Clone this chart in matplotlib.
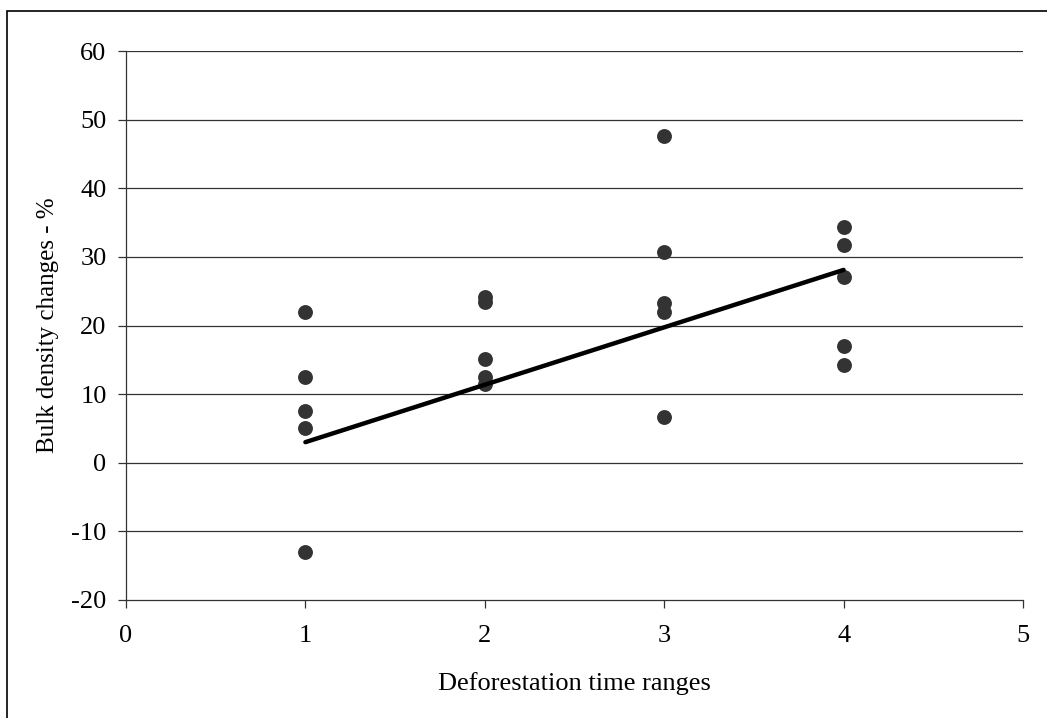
import matplotlib.pyplot as plt
from matplotlib.patches import Rectangle

plt.rcParams['font.family'] = ['Liberation Serif', 'DejaVu Serif']
plt.rcParams['axes.unicode_minus'] = False

# ---- data ----
time_range = [1, 1, 1, 1, 1,
              2, 2, 2, 2, 2,
              3, 3, 3, 3, 3,
              4, 4, 4, 4, 4]
bd_change = [21.9, 12.5, 7.5, 5.1, -13.0,
             24.2, 23.4, 15.1, 12.5, 11.5,
             47.6, 30.7, 23.3, 22.0, 6.7,
             34.3, 31.7, 27.0, 17.0, 14.3]
trend_x = [1, 4]
trend_y = [3.0, 28.1]

fig = plt.figure(figsize=(10.47, 7.18), dpi=100)
ax = fig.add_axes([126 / 1047, 1 - 600 / 718, (1023 - 126) / 1047, (600 - 51) / 718])

# outer frame (cut off on the right and bottom like the original)
fig.patches.append(Rectangle((7 / 1047, -0.2), 1.2, 1.2 - 10.5 / 718,
                             transform=fig.transFigure, fill=False,
                             edgecolor='black', linewidth=1.2, clip_on=False))

for v in range(-10, 61, 10):
    ax.axhline(v, color='#333333', linewidth=0.9, zorder=1)

ax.scatter(time_range, bd_change, s=115, color='#333333', zorder=3, linewidths=0)
ax.plot(trend_x, trend_y, color='black', linewidth=3.2, solid_capstyle='round', zorder=4)

ax.set_xlim(0, 5)
ax.set_ylim(-20, 60)
ax.set_xticks(range(0, 6))
ax.set_yticks(range(-20, 61, 10))
ax.tick_params(axis='both', direction='out', length=6, width=0.9, color='#333333',
               labelsize=19)
ax.tick_params(axis='x', pad=12)
ax.tick_params(axis='y', pad=8)
ax.spines['top'].set_visible(False)
ax.spines['right'].set_visible(False)
for s in ['left', 'bottom']:
    ax.spines[s].set_color('#333333')
    ax.spines[s].set_linewidth(0.9)

ax.set_xlabel('Deforestation time ranges', fontsize=19, labelpad=18)
ax.set_ylabel('Bulk density changes - %', fontsize=18, labelpad=9)

fig.savefig('out.png', dpi=100, facecolor='white')
